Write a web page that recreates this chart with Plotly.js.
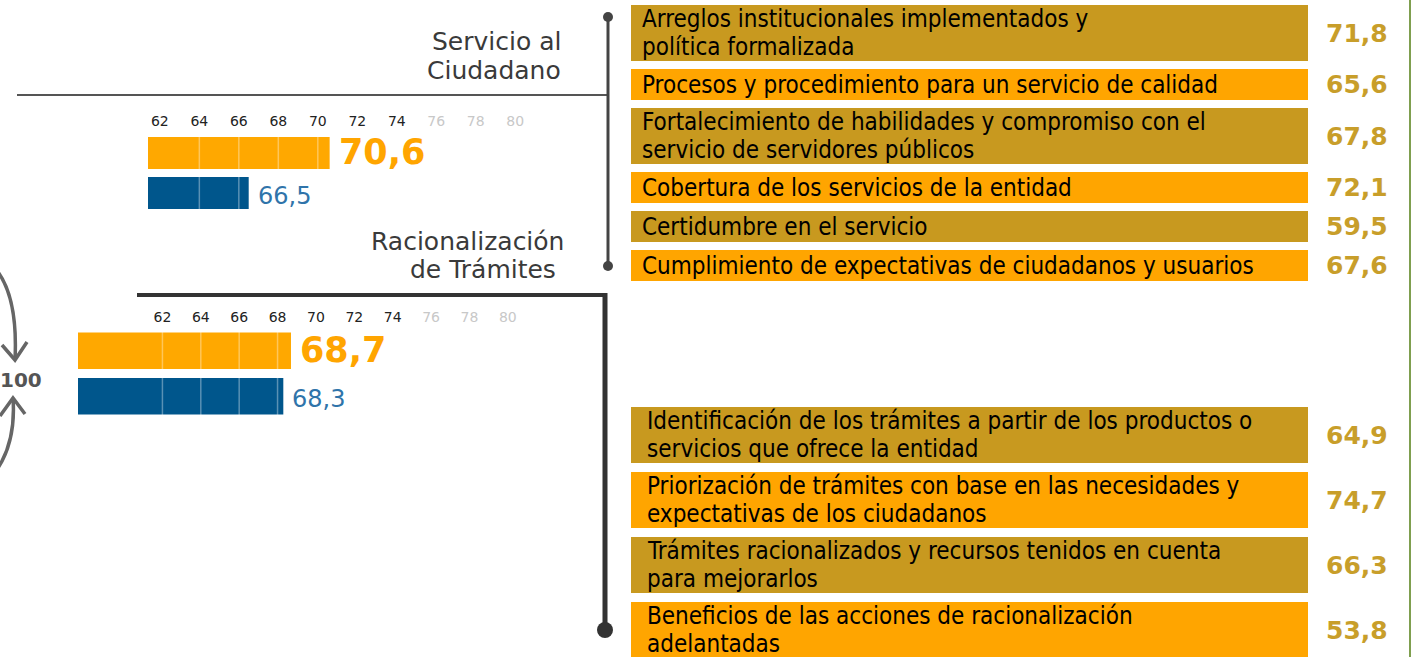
<!DOCTYPE html>
<html>
<head>
<meta charset="utf-8">
<script src="https://cdn.plot.ly/plotly-3.0.1.min.js"></script>
<style>html,body{margin:0;padding:0;background:#fff;}#chart{width:1420px;height:657px;}</style>
</head>
<body>
<div id="chart"></div>
<script>
// ---------- DATA ----------
const scaleTicks = [62, 64, 66, 68, 70, 72, 74, 76, 78, 80];
const fadedFrom = 76; // ticks from this value on are drawn faded

const seriesNames = ["Entidad", "Referencia"];
const servicioScores = [70.6, 66.5];
const tramitesScores = [68.7, 68.3];

const servicioItems = [
  "Arreglos institucionales implementados y<br>política formalizada",
  "Procesos y procedimiento para un servicio de calidad",
  "Fortalecimiento de habilidades y compromiso con el<br>servicio de servidores públicos",
  "Cobertura de los servicios de la entidad",
  "Certidumbre en el servicio",
  "Cumplimiento de expectativas de ciudadanos y usuarios"
];
const servicioValues = [71.8, 65.6, 67.8, 72.1, 59.5, 67.6];

const tramitesItems = [
  "Identificación de los trámites a partir de los productos o<br>servicios que ofrece la entidad",
  "Priorización de trámites con base en las necesidades y<br>expectativas de los ciudadanos",
  "Trámites racionalizados y recursos tenidos en cuenta<br>para mejorarlos",
  "Beneficios de las acciones de racionalización<br>adelantadas"
];
const tramitesValues = [64.9, 74.7, 66.3, 53.8];

const sectionTitles = [["Servicio al", "Ciudadano"], ["Racionalización", "de Trámites"]];
const centerLabel = "100";

// ---------- STYLE / LAYOUT HELPERS ----------
const W = 1420, H = 657;
const px = x => x / W;
const py = y => 1 - y / H;
const P = (x, y) => px(x) + "," + py(y);

const ORANGE = "#FFA800", BLUE = "#00568C";
const BOX_GOLD = "#C8991F", BOX_ORANGE = "#FFA500", VAL_GOLD = "#C89E2A";
const fmt = v => v.toFixed(1).replace(".", ",");

const tickText = scaleTicks.map(t => t >= fadedFrom
  ? '<span style="color:#C8C8C8">' + t + '</span>' : String(t));

const traces = [];
const shapes = [];
const annotations = [];

// small comparison charts
function smallChart(xa, ya, scores) {
  const colors = [ORANGE, BLUE];
  const textColors = ["#FFA500", "#2F74AA"];
  const sizes = [35, 24];
  scores.forEach((s, i) => {
    traces.push({
      type: "bar", orientation: "h",
      x: [s], y: [seriesNames[i]],
      xaxis: xa, yaxis: ya,
      width: 0.8,
      marker: {color: colors[i], line: {width: 0}},
      hoverinfo: "skip"
    });
    annotations.push({xref: xa, yref: ya, x: s, y: seriesNames[i], xanchor: "left", xshift: 7,
      yanchor: "middle", yshift: i === 0 ? 1 : -3, showarrow: false, text: fmt(s),
      font: {family: "DejaVu Sans", size: sizes[i], color: textColors[i], weight: i === 0 ? 700 : 400}});
  });
}
smallChart("x", "y", servicioScores);
smallChart("x2", "y2", tramitesScores);

// segment lines across bars (white, translucent: invisible on background)
function segLines(xref, yref, start) {
  scaleTicks.forEach(t => {
    if (t >= start + 2) shapes.push({type: "line", xref: xref, yref: yref + " domain",
      x0: t, x1: t, y0: 0, y1: 1, line: {color: "rgba(255,255,255,0.35)", width: 1.5}, layer: "above"});
  });
}
const range1 = [61.4, 81], range2 = [57.6, 81];
segLines("x", "y", range1[0]);
segLines("x2", "y2", range2[0]);

// right-hand boxes
const LINE_STEP = 28;
const groups = [
  {items: servicioItems, values: servicioValues, start: 5, gap: 8, indent: 9},
  {items: tramitesItems, values: tramitesValues, start: 407, gap: 9, indent: 14}
];
const boxY = [], boxH = [], boxC = [], boxOnes = [];
groups.forEach(g => {
  let y = g.start;
  g.items.forEach((lab, i) => {
    const lines = lab.split("<br>");
    const h = lines.length > 1 ? 56 : 31;
    const c = y + h / 2;
    boxY.push(c); boxH.push(h); boxOnes.push(1);
    boxC.push(i % 2 === 0 ? BOX_GOLD : BOX_ORANGE);
    lines.forEach((ln, k) => {
      annotations.push({xref: "x3", yref: "y3", x: 0, xshift: g.indent, xanchor: "left",
        y: c + (k - (lines.length - 1) / 2) * LINE_STEP, yanchor: "middle", showarrow: false,
        text: ln, font: {family: "DejaVu Sans Condensed, sans-serif", size: 24, color: "#000"}});
    });
    annotations.push({xref: "paper", yref: "y3", x: px(1390), xanchor: "right",
      y: c, yanchor: "middle", showarrow: false, text: fmt(g.values[i]),
      font: {family: "DejaVu Sans", size: 25, color: VAL_GOLD, weight: 700}});
    y += h + g.gap;
  });
});
traces.push({
  type: "bar", orientation: "h", x: boxOnes, y: boxY, width: boxH,
  xaxis: "x3", yaxis: "y3", marker: {color: boxC, line: {width: 0}}, hoverinfo: "skip"
});

// section titles (one annotation per line)
const titleLines = [
  {t: sectionTitles[0][0], x: 563, y: 41}, {t: sectionTitles[0][1], x: 563, y: 70},
  {t: sectionTitles[1][0], x: 566, y: 241}, {t: sectionTitles[1][1], x: 558, y: 269}
];
titleLines.forEach(l => annotations.push({xref: "paper", yref: "paper", x: px(l.x), y: py(l.y),
  xanchor: "right", yanchor: "middle", showarrow: false, text: l.t,
  font: {family: "DejaVu Sans", size: 25, color: "#3A3A3A"}}));
annotations.push({xref: "paper", yref: "paper", x: px(21), y: py(380), xanchor: "center", yanchor: "middle",
  showarrow: false, text: centerLabel,
  font: {family: "DejaVu Sans", size: 20, color: "#555", weight: 700}});

// connector lines
const LC = "#444";
shapes.push({type: "line", xref: "paper", yref: "paper", x0: px(17), x1: px(608), y0: py(95), y1: py(95), line: {color: "#555", width: 2}});
shapes.push({type: "line", xref: "paper", yref: "paper", x0: px(608), x1: px(608), y0: py(17), y1: py(266), line: {color: LC, width: 3}});
[17, 266].forEach(y => shapes.push({type: "circle", xref: "paper", yref: "paper",
  x0: px(603), x1: px(613), y0: py(y - 5), y1: py(y + 5), fillcolor: LC, line: {width: 0}}));
shapes.push({type: "line", xref: "paper", yref: "paper", x0: px(137), x1: px(607), y0: py(295), y1: py(295), line: {color: "#333", width: 4}});
shapes.push({type: "line", xref: "paper", yref: "paper", x0: px(605), x1: px(605), y0: py(293), y1: py(630), line: {color: "#333", width: 5}});
shapes.push({type: "circle", xref: "paper", yref: "paper",
  x0: px(597), x1: px(613), y0: py(622), y1: py(638), fillcolor: "#333", line: {width: 0}});
// green right border
shapes.push({type: "line", xref: "paper", yref: "paper", x0: px(1410), x1: px(1410), y0: 0, y1: 1, line: {color: "#7F9F4F", width: 2}});
// circular arrows around 100
const AC = "#666";
shapes.push({type: "path", xref: "paper", yref: "paper", line: {color: AC, width: 3.5},
  path: "M" + P(-2, 272) + " Q" + P(18, 300) + " " + P(15, 360)});
shapes.push({type: "path", xref: "paper", yref: "paper", line: {color: AC, width: 3.5},
  path: "M" + P(2, 345) + " L" + P(15, 360) + " L" + P(27, 342)});
shapes.push({type: "path", xref: "paper", yref: "paper", line: {color: AC, width: 3.5},
  path: "M" + P(-2, 468) + " Q" + P(16, 440) + " " + P(13, 398)});
shapes.push({type: "path", xref: "paper", yref: "paper", line: {color: AC, width: 3.5},
  path: "M" + P(0, 416) + " L" + P(13, 398) + " L" + P(25, 414)});

const smallX = (dom, rng, anchor) => ({
  domain: dom, range: rng, side: "top", anchor: anchor,
  tickvals: scaleTicks, ticktext: tickText, ticks: "", showgrid: false, zeroline: false,
  showline: false, fixedrange: true, ticklabelstandoff: 2,
  tickfont: {family: "DejaVu Sans", size: 14, color: "#222"}
});
const smallY = (dom, anchor) => ({domain: dom, type: "category", categoryarray: seriesNames,
  autorange: "reversed", visible: false, fixedrange: true, anchor: anchor});

const layout = {
  width: W, height: H, margin: {l: 0, r: 0, t: 0, b: 0},
  paper_bgcolor: "#fff", plot_bgcolor: "rgba(0,0,0,0)",
  showlegend: false, separators: ", ", barmode: "overlay",
  xaxis: smallX([px(148), px(535)], range1, "y"),
  yaxis: smallY([py(213), py(132)], "x"),
  xaxis2: smallX([px(78), px(527)], range2, "y2"),
  yaxis2: smallY([py(419), py(328)], "x2"),
  xaxis3: {domain: [px(631), px(1308)], range: [0, 1], visible: false, anchor: "y3", fixedrange: true},
  yaxis3: {domain: [0, 1], range: [H, 0], visible: false, anchor: "x3", fixedrange: true},
  shapes: shapes, annotations: annotations
};

Plotly.newPlot("chart", traces, layout, {displayModeBar: false, staticPlot: true});
</script>
</body>
</html>
